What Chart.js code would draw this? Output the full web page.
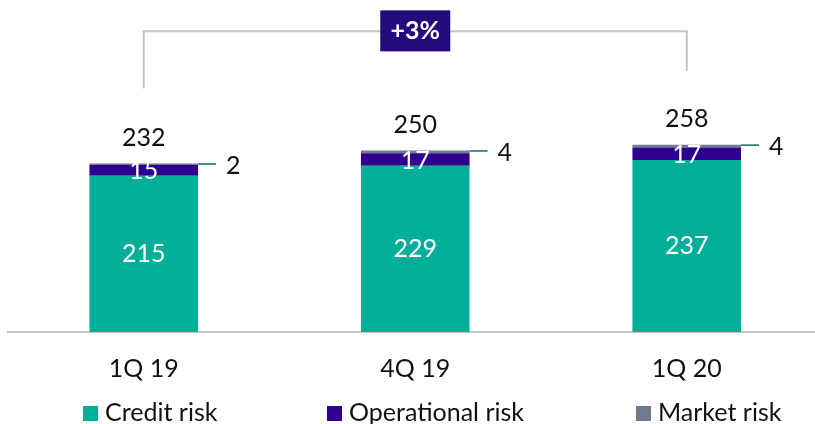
<!DOCTYPE html>
<html><head><meta charset="utf-8">
<script src="https://cdn.jsdelivr.net/npm/chart.js@4"></script>
<style>html,body{margin:0;padding:0;background:#fff;overflow:hidden}
#wrap{width:830px;height:424px;position:relative}
</style></head><body><div id="wrap"><canvas id="c" width="830" height="424"></canvas></div>
<script>
const categories = ['1Q 19', '4Q 19', '1Q 20'];
const creditRisk = [215, 229, 237];
const operationalRisk = [15, 17, 17];
const marketRisk = [2, 4, 4];
const totals = [232, 250, 258];
const changeLabel = '+3%';
const seriesNames = ['Credit risk', 'Operational risk', 'Market risk'];

const COLORS = ['#00ae99', '#2f008f', '#707a8f'];
const FONT = 'Lato';
const TEXT = '#111111';

const labelPlugin = {
  id: 'labels',
  afterDatasetsDraw(chart) {
    const ctx = chart.ctx;
    const m0 = chart.getDatasetMeta(0).data;
    const m1 = chart.getDatasetMeta(1).data;
    const m2 = chart.getDatasetMeta(2).data;
    ctx.save();
    ctx.textAlign = 'center';
    ctx.textBaseline = 'middle';
    ctx.font = '25px ' + FONT;
    for (let i = 0; i < categories.length; i++) {
      const c = m0[i], o = m1[i], mk = m2[i];
      ctx.fillStyle = '#ffffff';
      ctx.fillText(String(creditRisk[i]), c.x, (c.y + c.base) / 2);
      ctx.fillText(String(operationalRisk[i]), o.x, (o.y + o.base) / 2 + 1);
      // total
      ctx.fillStyle = TEXT;
      ctx.fillText(String(totals[i]), mk.x, mk.y - 26);
      // market risk leader
      const right = mk.x + mk.width / 2;
      ctx.strokeStyle = '#0a6e5c';
      ctx.lineWidth = 1.5;
      ctx.beginPath();
      ctx.moveTo(right, mk.y + 0.5);
      ctx.lineTo(right + 18, mk.y + 0.5);
      ctx.stroke();
      ctx.textAlign = 'left';
      ctx.fillText(String(marketRisk[i]), right + 28, mk.y + 2);
      ctx.textAlign = 'center';
    }
    // bracket
    const yTop = chart.scales.y.getPixelForValue(414);
    const a = m2[0], b = m2[2], mid = m2[1];
    ctx.strokeStyle = '#c4c4c4';
    ctx.lineWidth = 2;
    ctx.beginPath();
    ctx.moveTo(a.x, a.y - 75);
    ctx.lineTo(a.x, yTop);
    ctx.lineTo(b.x, yTop);
    ctx.lineTo(b.x, b.y - 74);
    ctx.stroke();
    ctx.fillStyle = '#230b7c';
    ctx.fillRect(mid.x - 35, yTop - 21, 70, 41);
    ctx.fillStyle = '#ffffff';
    ctx.font = 'bold 25px ' + FONT;
    ctx.fillText(changeLabel, mid.x, yTop);
    // legend
    ctx.font = '25px ' + FONT;
    ctx.textAlign = 'left';
    const lx = [83, 327, 636];
    for (let k = 0; k < 3; k++) {
      ctx.fillStyle = COLORS[k];
      ctx.fillRect(lx[k], 406, 15, 15);
      ctx.fillStyle = TEXT;
      ctx.fillText(seriesNames[k], lx[k] + 22, 413);
    }
    ctx.restore();
  }
};

new Chart(document.getElementById('c'), {
  type: 'bar',
  data: {
    labels: categories,
    datasets: [
      { label: seriesNames[0], data: creditRisk, backgroundColor: COLORS[0] },
      { label: seriesNames[1], data: operationalRisk, backgroundColor: COLORS[1] },
      { label: seriesNames[2], data: marketRisk, backgroundColor: COLORS[2] }
    ]
  },
  options: {
    responsive: false,
    animation: false,
    devicePixelRatio: 1,
    layout: { padding: { left: 8, right: 7.5, top: 27, bottom: 0 } },
    datasets: { bar: { barPercentage: 0.4, categoryPercentage: 1 } },
    plugins: { legend: { display: false }, tooltip: { enabled: false } },
    scales: {
      x: {
        stacked: true,
        grid: { display: false },
        border: { color: '#c8c8c8', width: 2 },
        ticks: { color: TEXT, font: { family: FONT, size: 25 }, padding: 14 },
        afterFit(scale) { scale.height = 92; }
      },
      y: {
        stacked: true,
        display: false,
        min: 0, max: 420
      }
    }
  },
  plugins: [labelPlugin]
});
</script></body></html>
